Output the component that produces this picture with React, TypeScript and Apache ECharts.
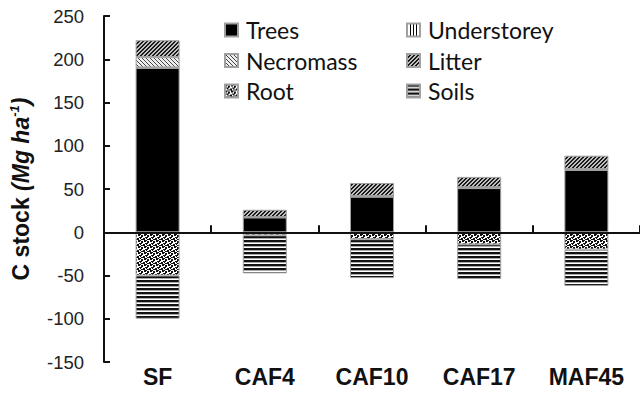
import React, { useEffect, useRef } from "react";
import * as echarts from "echarts";

const categories = ["SF", "CAF4", "CAF10", "CAF17", "MAF45"];
const trees = [190, 17, 41, 51, 72];
const understorey = [0.5, 0.5, 1, 1, 1];
const necromass = [12, 0, 0, 0, 0];
const litter = [19.5, 8.5, 15, 12, 15.5];
const root = [-50, -3.5, -8, -14, -20];
const soils = [-50, -44, -45, -40, -42];
const yTicks = { min: -150, max: 250, interval: 50 };

function makeTile(w: number, h: number, bg: string, draw: (set: (x: number, y: number, c: string) => void) => void) {
  const c = document.createElement("canvas");
  c.width = w;
  c.height = h;
  const ctx = c.getContext("2d")!;
  ctx.fillStyle = bg;
  ctx.fillRect(0, 0, w, h);
  draw((x, y, col) => {
    ctx.fillStyle = col;
    ctx.fillRect(((x % w) + w) % w, ((y % h) + h) % h, 1, 1);
  });
  return { image: c.toDataURL(), repeat: "repeat", imageWidth: w, imageHeight: h } as any;
}

export default function App() {
  const ref = useRef<HTMLDivElement>(null);
  useEffect(() => {
    if (!ref.current) return;
    const chart = echarts.init(ref.current, null, { renderer: "svg" });

    const understoreyPat = makeTile(3, 3, "#ffffff", (set) => {
      for (let y = 0; y < 3; y++) set(0, y, "#000");
    });
    const necromassPat = makeTile(4, 4, "#eeeeee", (set) => {
      for (let i = 0; i < 4; i++) set(i, i, "#444");
    });
    const litterPat = makeTile(4, 4, "#c0c0c0", (set) => {
      for (let i = 0; i < 4; i++) {
        set(i, 3 - i, "#1a1a1a");
        set(i + 1, 3 - i, "#1a1a1a");
      }
    });
    const rootPat = makeTile(6, 6, "#ffffff", (set) => {
      const pts = [
        [0, 0], [1, 0], [0, 1], [1, 1], [2, 0],
        [3, 1], [4, 1], [4, 2], [3, 2],
        [2, 3], [3, 3], [2, 4], [1, 3],
        [5, 4], [0, 4], [5, 5], [0, 5],
        [3, 5], [4, 5],
      ];
      pts.forEach(([x, y]) => set(x, y, "#111"));
    });
    const soilsPat = makeTile(4, 4, "#ffffff", (set) => {
      for (let x = 0; x < 4; x++) {
        set(x, 0, "#111");
        set(x, 1, "#111");
        set(x, 2, "#aaaaaa");
      }
    });

    const border = { borderColor: "#a0a0a0", borderWidth: 1 };
    const mk = (name: string, data: number[], color: any) => ({
      name,
      type: "bar",
      stack: "total",
      xAxisIndex: 0,
      barWidth: 44,
      data,
      itemStyle: { color, ...border },
      emphasis: { disabled: true },
    });

    const legendText = {
      fontFamily: "Lato",
      fontSize: 23,
      color: "#111",
      lineHeight: 24,
      padding: [0, 0, 0, 3],
    };

    chart.setOption({
      animation: false,
      grid: { left: 103, top: 16, height: 346, width: 543, containLabel: false },
      legend: [
        {
          data: ["Trees", "Necromass", "Root"],
          orient: "vertical",
          left: 224,
          top: 18,
          icon: "rect",
          itemWidth: 13,
          itemHeight: 13,
          itemGap: 6.5,
          padding: 0,
          textStyle: legendText,
        },
        {
          data: ["Understorey", "Litter", "Soils"],
          orient: "vertical",
          left: 406,
          top: 18,
          icon: "rect",
          itemWidth: 13,
          itemHeight: 13,
          itemGap: 6.5,
          padding: 0,
          textStyle: legendText,
        },
      ],
      xAxis: [
        {
          type: "category",
          data: categories,
          axisLine: { onZero: true, lineStyle: { color: "#111", width: 2 } },
          axisTick: { show: true, inside: true, length: 7, lineStyle: { color: "#111", width: 2 } },
          axisLabel: { show: false },
          splitLine: { show: false },
          z: 10,
        },
        {
          type: "category",
          data: categories,
          position: "bottom",
          axisLine: { show: false, onZero: false },
          axisTick: { show: false },
          axisLabel: {
            fontFamily: "Liberation Sans",
            fontWeight: "bold",
            fontSize: 23,
            color: "#111",
            margin: 3,
          },
        },
      ],
      yAxis: {
        type: "value",
        min: yTicks.min,
        max: yTicks.max,
        interval: yTicks.interval,
        axisLine: { show: true, onZero: false, lineStyle: { color: "#111", width: 2 } },
        axisTick: { show: true, inside: true, length: 6, lineStyle: { color: "#111", width: 2 } },
        axisLabel: { fontFamily: "Liberation Sans", fontSize: 18.5, color: "#222", margin: 20 },
        splitLine: { show: false },
        name: "{b|C stock }{i|(Mg ha}{s|-1}{i|)}",
        nameLocation: "middle",
        nameGap: 70,
        nameTextStyle: {
          rich: {
            b: { fontFamily: "Liberation Sans", fontWeight: "bold", fontSize: 23, color: "#111", lineHeight: 26 },
            i: {
              fontFamily: "Liberation Sans",
              fontWeight: "bold",
              fontStyle: "italic",
              fontSize: 23,
              color: "#111",
              lineHeight: 26,
            },
            s: {
              fontFamily: "Liberation Sans",
              fontWeight: "bold",
              fontStyle: "italic",
              fontSize: 13,
              color: "#111",
              verticalAlign: "top",
              lineHeight: 26,
              padding: [0, 0, 11, 0],
            },
          },
        },
      },
      series: [
        mk("Trees", trees, "#000000"),
        mk("Understorey", understorey, understoreyPat),
        mk("Necromass", necromass, necromassPat),
        mk("Litter", litter, litterPat),
        mk("Root", root, rootPat),
        mk("Soils", soils, soilsPat),
      ],
    });
    return () => chart.dispose();
  }, []);
  return <div ref={ref} style={{ width: 640, height: 406, position: "absolute", left: 0, top: 0 }} />;
}
